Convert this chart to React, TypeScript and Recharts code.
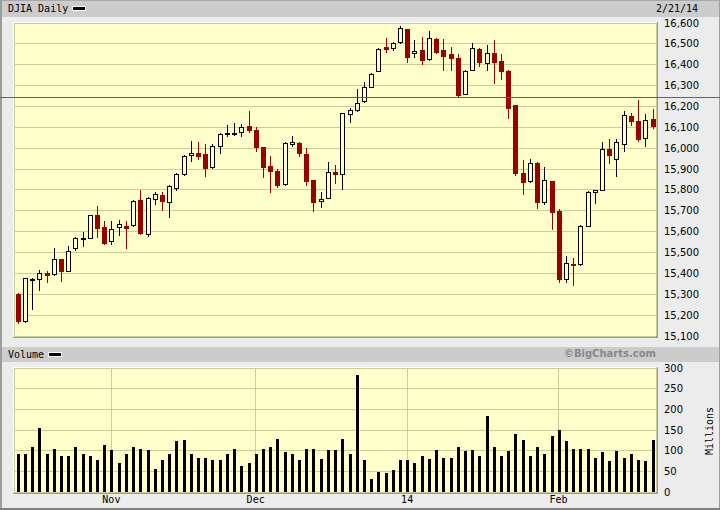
import { ComposedChart, Bar, XAxis, YAxis, CartesianGrid, ReferenceLine } from "recharts";

// trading days, Oct 15 2013 .. Feb 21 2014
const days = [
  "10/15", "10/16", "10/17", "10/18", "10/21", "10/22", "10/23", "10/24", "10/25", "10/28", "10/29", "10/30", "10/31",
  "11/1", "11/4", "11/5", "11/6", "11/7", "11/8", "11/11", "11/12", "11/13", "11/14", "11/15", "11/18", "11/19", "11/20",
  "11/21", "11/22", "11/25", "11/26", "11/27", "11/29",
  "12/2", "12/3", "12/4", "12/5", "12/6", "12/9", "12/10", "12/11", "12/12", "12/13", "12/16", "12/17", "12/18", "12/19",
  "12/20", "12/23", "12/24", "12/26", "12/27", "12/30", "12/31",
  "1/2", "1/3", "1/6", "1/7", "1/8", "1/9", "1/10", "1/13", "1/14", "1/15", "1/16", "1/17", "1/21", "1/22", "1/23", "1/24",
  "1/27", "1/28", "1/29", "1/30", "1/31",
  "2/3", "2/4", "2/5", "2/6", "2/7", "2/10", "2/11", "2/12", "2/13", "2/14", "2/18", "2/19", "2/20", "2/21",
];

const opens = [
  15300, 15170, 15369, 15371, 15400, 15396, 15467, 15413, 15524, 15567, 15570, 15680, 15620,
  15556, 15620, 15628, 15631, 15750, 15591, 15758, 15774, 15740, 15810, 15876, 15967, 15976, 15971,
  15910, 16010, 16070, 16070, 16076, 16105,
  16086, 16005, 15916, 15892, 15829, 16019, 16024, 15971, 15848, 15746, 15762, 15886, 15876, 16162,
  16181, 16224, 16295, 16371, 16486, 16481, 16510,
  16571, 16457, 16471, 16429, 16524, 16471, 16452, 16433, 16262, 16376, 16476, 16410, 16457, 16419, 16371, 16205,
  15881, 15843, 15929, 15742, 15843,
  15698, 15371, 15443, 15443, 15627, 15792, 15802, 15995, 15948, 16019, 16152, 16129, 16048, 16138,
];
const highs = [
  15305, 15376, 15378, 15416, 15410, 15520, 15469, 15530, 15575, 15600, 15682, 15721, 15653,
  15650, 15658, 15652, 15750, 15800, 15765, 15792, 15792, 15822, 15880, 15968, 16033, 16028, 16020,
  16018, 16075, 16111, 16119, 16114, 16180,
  16100, 16008, 15962, 15898, 16028, 16057, 16028, 16000, 15850, 15792, 15933, 15919, 16170, 16195,
  16286, 16319, 16360, 16482, 16529, 16510, 16586,
  16573, 16519, 16533, 16562, 16530, 16524, 16486, 16452, 16376, 16505, 16478, 16495, 16519, 16452, 16373, 16207,
  15944, 15949, 15932, 15910, 15845,
  15707, 15481, 15476, 15632, 15796, 15802, 16029, 16043, 16043, 16176, 16167, 16229, 16162, 16190,
];
const lows = [
  15163, 15165, 15227, 15322, 15360, 15394, 15365, 15410, 15510, 15531, 15568, 15575, 15540,
  15540, 15584, 15520, 15628, 15587, 15578, 15733, 15705, 15670, 15800, 15872, 15941, 15947, 15865,
  15905, 15976, 16057, 16065, 16057, 16076,
  15986, 15860, 15790, 15813, 15825, 16012, 15965, 15826, 15700, 15716, 15760, 15835, 15804, 16124,
  16180, 16222, 16293, 16368, 16462, 16470, 16505,
  16414, 16438, 16405, 16425, 16455, 16376, 16376, 16243, 16258, 16374, 16395, 16376, 16314, 16333, 16143, 15872,
  15781, 15840, 15712, 15733, 15612,
  15357, 15357, 15343, 15441, 15625, 15735, 15800, 15929, 15867, 15986, 16110, 16033, 16010, 16095,
];
const closes = [
  15170, 15376, 15371, 15400, 15390, 15467, 15413, 15508, 15570, 15568, 15680, 15618, 15546,
  15615, 15637, 15618, 15746, 15594, 15763, 15782, 15748, 15820, 15876, 15962, 15976, 15965, 15903,
  16010, 16067, 16071, 16071, 16100, 16086,
  16008, 15912, 15889, 15822, 16024, 16030, 15976, 15845, 15741, 15756, 15886, 15874, 16167, 16181,
  16219, 16295, 16357, 16476, 16476, 16505, 16576,
  16438, 16467, 16424, 16529, 16462, 16443, 16433, 16257, 16371, 16481, 16414, 16457, 16414, 16371, 16195, 15881,
  15836, 15929, 15740, 15848, 15695,
  15371, 15448, 15438, 15629, 15792, 15802, 15995, 15967, 16029, 16157, 16131, 16043, 16133, 16105,
];

// volume, millions of shares
const volumes = [
  91, 91, 108, 154, 93, 105, 88, 88, 108, 91, 86, 78, 113,
  101, 69, 91, 108, 103, 101, 56, 78, 91, 123, 125, 93, 83, 83,
  78, 78, 93, 105, 64, 69,
  91, 103, 110, 128, 96, 91, 78, 105, 105, 81, 101, 101, 128, 93,
  282, 78, 32, 49, 47, 54, 78,
  78, 71, 88, 81, 101, 83, 83, 110, 98, 101, 86, 184, 110, 86, 98, 140,
  125, 88, 108, 91, 135,
  150, 123, 103, 105, 105, 83, 96, 76, 98, 83, 91, 78, 76, 125,
];

const monthStarts = ["11/1", "12/2", "1/2", "2/3"];
const monthNames = ["Nov", "Dec", "14", "Feb"];
const priceTicks = [15100, 15200, 15300, 15400, 15500, 15600, 15700, 15800, 15900, 16000, 16100, 16200, 16300, 16400, 16500, 16600];
const volumeTicks = [0, 50, 100, 150, 200, 250, 300];
const alertLevel = 16243;

const data = days.map((day, i) => ({
  day,
  range: [lows[i], highs[i]],
  open: opens[i],
  close: closes[i],
  high: highs[i],
  low: lows[i],
  volume: volumes[i],
}));

const RED = "#990000";
const ALERT = "#ff2020";
const PLOT_BG = "#ffffcc";
const GRID = "#cccc99";
const mono = "'DejaVu Sans Mono', monospace";
const sans = "'DejaVu Sans', sans-serif";

function Candle(props: any) {
  const { x, y, width, height, payload } = props;
  if (x == null || !payload) return null;
  const { open, close, high, low } = payload;
  const top = Math.min(y, y + height);
  const bot = Math.max(y, y + height);
  const span = high - low || 1;
  const yOf = (v: number) => top + ((high - v) / span) * (bot - top);
  const c = Math.round(x + width / 2);
  const up = close >= open;
  const bTop = Math.round(yOf(Math.max(open, close)));
  const bBot = Math.round(yOf(Math.min(open, close)));
  const hi = Math.round(yOf(high));
  const lo = Math.round(yOf(low));
  if (!up) {
    return (
      <g>
        <line x1={c + 0.5} x2={c + 0.5} y1={hi} y2={lo + 1} stroke={RED} strokeWidth={1} />
        <rect x={c - 2} y={bTop} width={5} height={Math.max(bBot - bTop, 1) + 1} fill={RED} />
      </g>
    );
  }
  return (
    <g>
      <line x1={c + 0.5} x2={c + 0.5} y1={hi} y2={bTop} stroke="#000" strokeWidth={1} />
      <line x1={c + 0.5} x2={c + 0.5} y1={bBot} y2={lo + 1} stroke="#000" strokeWidth={1} />
      <rect x={c - 1.5} y={bTop + 0.5} width={4} height={Math.max(bBot - bTop, 0)} fill={PLOT_BG} stroke="#000" strokeWidth={1} />
    </g>
  );
}

function VolumeBar(props: any) {
  const { x, y, width, height } = props;
  if (x == null) return null;
  const c = Math.round(x + width / 2);
  const t = Math.round(y);
  return <rect x={c - 1} y={t} width={3} height={Math.round(y + height) - t} fill="#000" />;
}

function AlertLine(p: any) {
  const yy = Math.round(p.y1);
  // spans the whole picture, label column included
  return <rect x={0} y={yy} width={720} height={1} fill={ALERT} />;
}

const abs = (s: React.CSSProperties): React.CSSProperties => ({ position: "absolute", ...s });
const label: React.CSSProperties = { fontFamily: mono, fontSize: 10, lineHeight: "12px", color: "#000", whiteSpace: "nowrap" };

export default function App() {
  return (
    <div style={abs({ left: 0, top: 0, width: 720, height: 510, background: "#ececec", overflow: "hidden" })}>
      <style>{`.recharts-cartesian-grid line{shape-rendering:crispEdges}`}</style>
      {/* frame */}
      <div style={abs({ left: 0, top: 0, width: 720, height: 1, background: "#a8a8a8" })} />
      <div style={abs({ left: 0, top: 0, width: 2, height: 510, background: "#9c9c9c" })} />
      <div style={abs({ left: 719, top: 0, width: 1, height: 510, background: "#a0a0a0" })} />
      <div style={abs({ left: 0, top: 508, width: 720, height: 2, background: "#808080" })} />

      {/* price header */}
      <div style={abs({ left: 2, top: 1, width: 717, height: 16, background: "#cccccc" })} />
      <div style={abs({ ...label, left: 8, top: 3 })}>DJIA Daily</div>
      <div style={abs({ left: 72, top: 6, width: 14, height: 5, background: "#fff" })} />
      <div style={abs({ left: 73, top: 7, width: 12, height: 3, background: "#000" })} />
      <div style={abs({ ...label, left: 656, top: 3 })}>2/21/14</div>

      {/* price plot frame */}
      <div
        style={abs({
          left: 13, top: 22, width: 645, height: 316, boxSizing: "border-box", background: PLOT_BG,
          borderLeft: "1px solid #fff", borderTop: "1px solid #fff", borderRight: "2px solid #999", borderBottom: "2px solid #999",
        })}
      />

      <div style={abs({ left: 0, top: 0 })}>
        <ComposedChart width={720} height={346} data={data} margin={{ top: 23, right: 0, bottom: 10, left: 14 }}>
          <CartesianGrid stroke={GRID} strokeWidth={1} fill="none" />
          <XAxis dataKey="day" ticks={monthStarts} interval={0} tick={false} tickLine={false} axisLine={false} height={0} />
          <YAxis
            orientation="right"
            domain={[15100, 16600]}
            ticks={priceTicks}
            interval={0}
            width={64}
            tickSize={0}
            tickMargin={8}
            axisLine={false}
            tickLine={false}
            tick={{ fill: "#000", fontSize: 10, fontFamily: sans }}
            tickFormatter={(v: number) => v.toLocaleString("en-US")}
          />
          <Bar dataKey="range" shape={<Candle />} isAnimationActive={false} />
          <ReferenceLine y={alertLevel} stroke={ALERT} shape={AlertLine} />
        </ComposedChart>
      </div>

      {/* volume header */}
      <div style={abs({ left: 2, top: 347, width: 717, height: 15, background: "#cccccc" })} />
      <div style={abs({ ...label, left: 8, top: 349 })}>Volume</div>
      <div style={abs({ left: 48, top: 352, width: 14, height: 5, background: "#fff" })} />
      <div style={abs({ left: 49, top: 353, width: 12, height: 3, background: "#000" })} />
      <div style={abs({ ...label, fontFamily: sans, fontWeight: "bold", color: "#888", right: 64, top: 348 })}>©BigCharts.com</div>

      {/* volume plot frame */}
      <div
        style={abs({
          left: 13, top: 367, width: 645, height: 127, boxSizing: "border-box", background: PLOT_BG,
          borderLeft: "1px solid #fff", borderTop: "1px solid #fff", borderRight: "2px solid #999", borderBottom: "2px solid #999",
        })}
      />

      <div style={abs({ left: 0, top: 340 })}>
        <ComposedChart width={720} height={170} data={data} margin={{ top: 28, right: 0, bottom: 0, left: 14 }}>
          <CartesianGrid stroke={GRID} strokeWidth={1} fill="none" />
          <XAxis
            dataKey="day"
            ticks={monthStarts}
            interval={0}
            height={18}
            tickSize={0}
            tickMargin={4}
            tickLine={false}
            axisLine={false}
            tick={{ fill: "#000", fontSize: 10, fontFamily: mono }}
            tickFormatter={(d: string) => monthNames[monthStarts.indexOf(d)]}
          />
          <YAxis
            orientation="right"
            domain={[0, 300]}
            ticks={volumeTicks}
            interval={0}
            width={64}
            tickSize={0}
            tickMargin={8}
            axisLine={false}
            tickLine={false}
            tick={{ fill: "#000", fontSize: 10, fontFamily: sans }}
          />
          <Bar dataKey="volume" shape={<VolumeBar />} isAnimationActive={false} />
        </ComposedChart>
      </div>

      <div style={abs({ ...label, left: 710, top: 431, transform: "translate(-50%, -50%) rotate(-90deg)" })}>Millions</div>
    </div>
  );
}
